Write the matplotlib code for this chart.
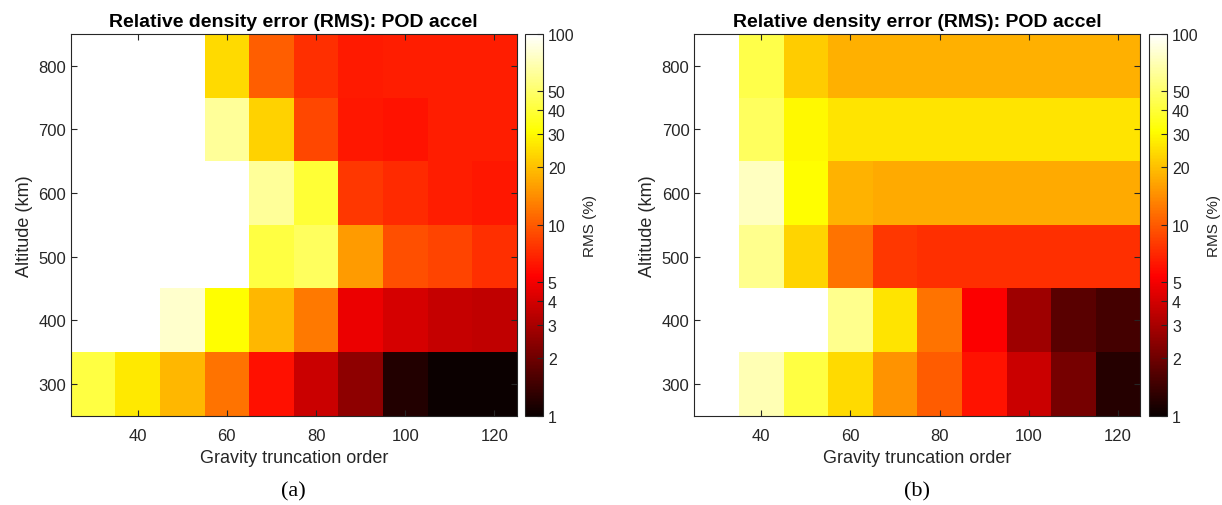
import numpy as np
import matplotlib.pyplot as plt
from matplotlib.colors import LogNorm

plt.rcParams['font.family'] = ['Liberation Sans', 'DejaVu Sans']

# Grid: gravity truncation order vs altitude
orders = [30, 40, 50, 60, 70, 80, 90, 100, 110, 120]
altitudes = [300, 400, 500, 600, 700, 800]

nan = np.nan

# RMS relative density error (%), rows = altitude 300..800
rms_a = [
    [41.8, 26.7, 19.0, 11.8, 6.0, 3.75, 2.5, 1.18, 1.0, 1.0],
    [nan, nan, 78.0, 30.6, 19.0, 12.2, 4.7, 4.0, 3.6, 3.5],
    [nan, nan, nan, nan, 41.8, 47.5, 15.5, 9.3, 8.6, 7.4],
    [nan, nan, nan, nan, 62.0, 39.6, 7.9, 7.2, 6.6, 6.3],
    [nan, nan, nan, 62.0, 22.5, 8.8, 6.3, 6.1, 6.6, 6.6],
    [nan, nan, nan, 24.0, 10.3, 7.4, 6.4, 6.6, 6.6, 6.6],
]

rms_b = [
    [nan, 71.0, 41.8, 24.0, 14.6, 10.0, 6.1, 3.75, 2.1, 1.2],
    [nan, nan, nan, 59.0, 25.9, 11.8, 5.3, 2.77, 1.72, 1.5],
    [nan, 59.0, 23.2, 11.8, 7.9, 7.4, 7.4, 7.4, 7.4, 7.4],
    [nan, 74.0, 30.6, 18.2, 17.2, 17.2, 17.2, 17.2, 17.2, 17.2],
    [nan, 47.5, 29.7, 25.9, 25.9, 25.9, 25.9, 25.9, 25.9, 25.9],
    [nan, 43.0, 21.8, 17.8, 17.8, 17.8, 17.8, 17.8, 17.8, 17.8],
]

cb_ticks = [1, 2, 3, 4, 5, 10, 20, 30, 40, 50, 100]

cmap = plt.get_cmap('hot').copy()
cmap.set_bad('white')
norm = LogNorm(vmin=1, vmax=100)

x_edges = np.arange(25, 126, 10)
y_edges = np.arange(250, 851, 100)

dark = (0.15, 0.15, 0.15)

fig = plt.figure(figsize=(12.22, 5.06), dpi=100)

panels = [
    (rms_a, 0.0579, 0.4296, '(a)'),
    (rms_b, 0.5682, 0.9405, '(b)'),
]

for data, ax_left, cb_left, tag in panels:
    ax = fig.add_axes([ax_left, 0.1765, 0.365, 0.7543])
    z = np.ma.masked_invalid(np.array(data))
    mesh = ax.pcolormesh(x_edges, y_edges, np.clip(z, 1, None), cmap=cmap, norm=norm)
    ax.set_xlim(25, 125)
    ax.set_ylim(250, 850)
    ax.set_xticks([40, 60, 80, 100, 120])
    ax.set_yticks([300, 400, 500, 600, 700, 800])
    ax.tick_params(direction='in', top=True, right=True, labelsize=12,
                   colors=dark, length=4, width=0.8)
    ax.tick_params(axis='x', pad=9)
    for s in ax.spines.values():
        s.set_color(dark)
        s.set_linewidth(0.8)
    ax.set_xlabel('Gravity truncation order', fontsize=13, color=dark, labelpad=4)
    ax.set_ylabel('Altitude (km)', fontsize=13, color=dark, labelpad=4)
    ax.set_title('Relative density error (RMS): POD accel', fontsize=14,
                 fontweight='bold', pad=6)

    cax = fig.add_axes([cb_left, 0.1765, 0.0147, 0.7543])
    cb = fig.colorbar(mesh, cax=cax)
    cb.set_ticks(cb_ticks)
    cb.set_ticklabels([str(t) for t in cb_ticks])
    cb.ax.minorticks_off()
    cb.ax.tick_params(direction='in', labelsize=11.5, colors=dark, length=4, width=0.8)
    cb.outline.set_edgecolor(dark)
    cb.outline.set_linewidth(0.8)
    cb.set_label('RMS (%)', fontsize=11, color=dark, labelpad=6)

    fig.text(ax_left + 0.365 / 2, 0.028, tag, ha='center', va='center',
             fontsize=16, family='Liberation Serif')

fig.savefig('out.png', dpi=100)
